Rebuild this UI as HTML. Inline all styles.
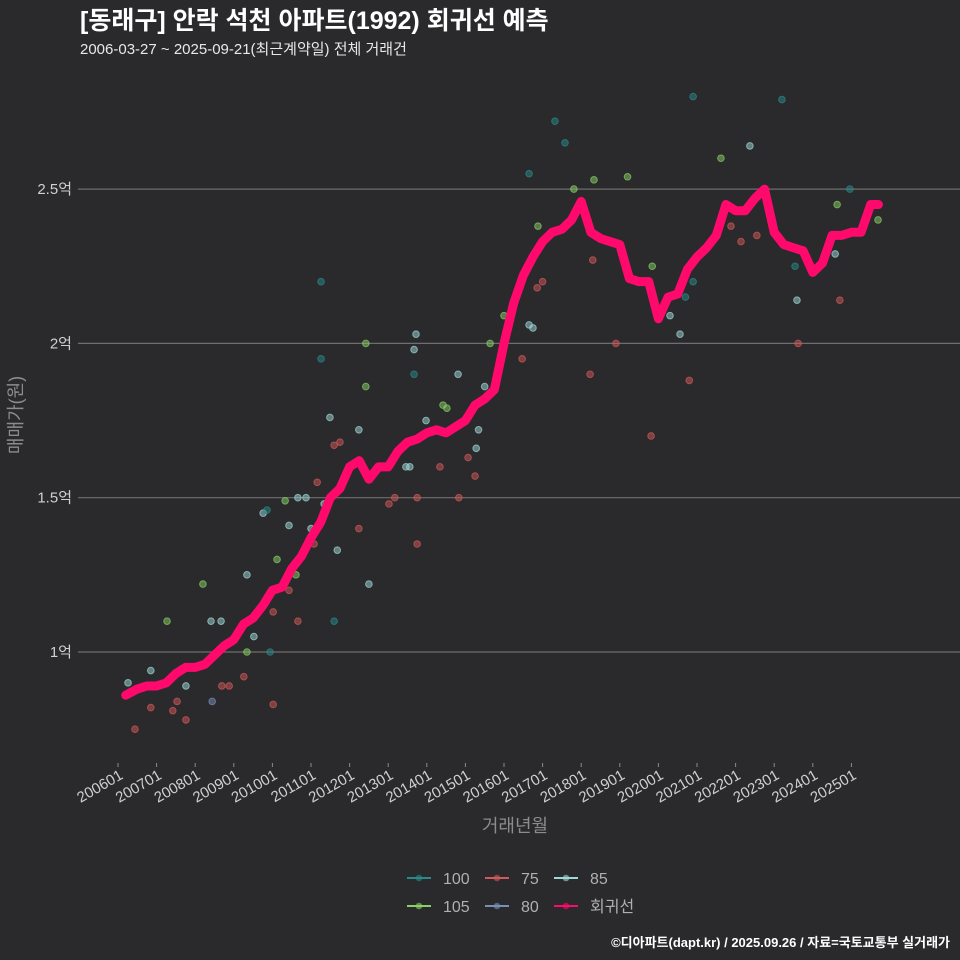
<!DOCTYPE html>
<html><head><meta charset="utf-8">
<style>
html,body{margin:0;padding:0;background:#2a292b;}
svg{display:block;font-family:"Liberation Sans","Noto Sans CJK KR",sans-serif;}
</style></head>
<body>
<svg id="chart" width="960" height="960" viewBox="0 0 960 960" xmlns="http://www.w3.org/2000/svg">
<rect width="960" height="960" fill="#2a292b"/>
<text x="80" y="29" fill="#ffffff" font-size="25" font-weight="bold">[동래구] 안락 석천 아파트(1992) 회귀선 예측</text>
<text x="80" y="54" fill="#e8e8e8" font-size="15">2006-03-27 ~ 2025-09-21(최근계약일) 전체 거래건</text>
<g id="grid"></g>
<g id="points"></g>
<g id="line"></g>
<g id="axes"></g>
<text x="0" y="0" transform="translate(22,415) rotate(-90)" text-anchor="middle" fill="#8c8c8c" font-size="18">매매가(원)</text>
<text x="515" y="832" text-anchor="middle" fill="#8c8c8c" font-size="18">거래년월</text>
<g id="legend"></g>
<text x="950" y="947" text-anchor="end" fill="#ffffff" font-size="13" font-weight="bold">©디아파트(dapt.kr) / 2025.09.26 / 자료=국토교통부 실거래가</text>
</svg>
<script>
const yTicks=[1,1.5,2,2.5];
const yTickLabels=["1억","1.5억","2억","2.5억"];
const xTickYears=[2006,2007,2008,2009,2010,2011,2012,2013,2014,2015,2016,2017,2018,2019,2020,2021,2022,2023,2024,2025];
const xTickLabels=["200601","200701","200801","200901","201001","201101","201201","201301","201401","201501","201601","201701","201801","201901","202001","202101","202201","202301","202401","202501"];
const lineYears=[2006.2,2006.5,2006.75,2007,2007.25,2007.5,2007.75,2008,2008.25,2008.5,2008.75,2009,2009.25,2009.5,2009.75,2010,2010.25,2010.5,2010.75,2011,2011.25,2011.5,2011.75,2012,2012.25,2012.5,2012.75,2013,2013.25,2013.5,2013.75,2014,2014.25,2014.5,2014.75,2015,2015.25,2015.5,2015.75,2016,2016.25,2016.5,2016.75,2017,2017.25,2017.5,2017.75,2018,2018.25,2018.5,2018.75,2019,2019.25,2019.5,2019.75,2020,2020.25,2020.5,2020.75,2021,2021.25,2021.5,2021.75,2022,2022.25,2022.5,2022.75,2023,2023.25,2023.5,2023.75,2024,2024.25,2024.5,2024.75,2025,2025.25,2025.5,2025.7];
const lineValues=[0.86,0.88,0.89,0.89,0.90,0.93,0.95,0.95,0.96,0.99,1.02,1.04,1.09,1.11,1.15,1.20,1.21,1.27,1.31,1.37,1.42,1.50,1.53,1.60,1.62,1.56,1.60,1.60,1.65,1.68,1.69,1.71,1.72,1.71,1.73,1.75,1.80,1.82,1.85,2.00,2.13,2.22,2.28,2.33,2.36,2.37,2.40,2.46,2.36,2.34,2.33,2.32,2.21,2.20,2.20,2.08,2.15,2.16,2.24,2.28,2.31,2.35,2.45,2.43,2.43,2.47,2.50,2.36,2.32,2.31,2.30,2.23,2.26,2.35,2.35,2.36,2.36,2.45,2.45];
const pointYears=[2006.26,2006.44,2006.85,2006.85,2007.27,2007.42,2007.53,2007.76,2007.76,2008.2,2008.41,2008.67,2008.44,2008.69,2008.88,2009.26,2009.34,2009.34,2009.52,2009.76,2009.86,2009.94,2010.02,2010.02,2010.04,2010.12,2010.33,2010.43,2010.43,2010.61,2010.66,2010.66,2010.87,2011.0,2011.08,2011.16,2011.26,2011.26,2011.34,2011.49,2011.6,2011.68,2011.6,2011.75,2012.24,2012.24,2012.42,2012.42,2012.5,2013.02,2013.17,2013.46,2013.56,2013.67,2013.67,2013.72,2013.75,2013.75,2013.98,2014.34,2014.42,2014.52,2014.81,2014.83,2015.07,2015.25,2015.28,2015.34,2015.5,2015.64,2016.0,2016.47,2016.65,2016.65,2016.75,2016.86,2017.0,2016.88,2017.32,2017.58,2017.81,2018.23,2018.33,2018.3,2018.9,2019.2,2019.81,2019.84,2020.3,2020.56,2020.7,2020.8,2020.9,2020.9,2021.62,2021.88,2022.14,2022.37,2022.55,2023.2,2023.54,2023.59,2023.62,2024.58,2024.63,2024.7,2024.96,2025.69];
const pointValues=[0.90,0.75,0.94,0.82,1.10,0.81,0.84,0.78,0.89,1.22,1.10,1.10,0.84,0.89,0.89,0.92,1.00,1.25,1.05,1.45,1.46,1.00,0.83,1.13,1.20,1.30,1.49,1.41,1.20,1.25,1.10,1.50,1.50,1.40,1.35,1.55,2.20,1.95,1.48,1.76,1.10,1.33,1.67,1.68,1.72,1.40,2.00,1.86,1.22,1.48,1.50,1.60,1.60,1.98,1.90,2.03,1.35,1.50,1.75,1.60,1.80,1.79,1.90,1.50,1.63,1.57,1.66,1.72,1.86,2.00,2.09,1.95,2.55,2.06,2.05,2.18,2.20,2.38,2.72,2.65,2.50,1.90,2.53,2.27,2.00,2.54,1.70,2.25,2.09,2.03,2.15,1.88,2.80,2.20,2.60,2.38,2.33,2.64,2.35,2.79,2.25,2.14,2.00,2.29,2.45,2.14,2.50,2.40];
const pointTypes=["85","75","85","75","105","75","75","75","85","105","85","85","80","75","75","75","105","85","85","85","100","100","75","75","105","105","105","85","75","105","75","85","85","85","75","75","100","100","85","85","100","85","75","75","85","75","105","105","85","75","75","85","85","85","100","85","75","75","85","75","105","105","85","75","75","75","85","85","85","105","105","75","100","85","85","75","75","105","100","100","105","75","105","75","75","105","75","105","85","85","100","75","100","100","105","75","75","85","75","100","100","85","75","85","105","75","100","105"];
const legendLabels=["100","75","85","105","80","회귀선"];

const colors={"100":"#2a8a8a","75":"#d05a5a","85":"#9fd8d8","105":"#88d068","80":"#7890b8","회귀선":"#ff0a6c"};
const NS="http://www.w3.org/2000/svg";
function xs(yr){return 118+(yr-2006)*38.6;}
function ys(v){return 652-(v-1)*308.6;}
function mk(tag,attrs,parent){const e=document.createElementNS(NS,tag);for(const k in attrs)e.setAttribute(k,attrs[k]);parent.appendChild(e);return e;}
const grid=document.getElementById('grid'),axes=document.getElementById('axes');
yTicks.forEach((t,i)=>{
  const l=mk('line',{x1:78,x2:960,y1:ys(t),y2:ys(t),stroke:'#6e6e6e','stroke-width':1.2},grid);
  
  
  const tx=mk('text',{x:72,y:ys(t)+5,'text-anchor':'end',fill:'#d0d0d0','font-size':15},axes);
  tx.textContent=yTickLabels[i];
  
  
});
xTickYears.forEach((yr,i)=>{
  const x=xs(yr);
  const tk=mk('line',{x1:x,x2:x,y1:763,y2:767,stroke:'#8c8c8c'},axes);
  
  
  const tx=mk('text',{x:0,y:0,transform:`translate(${x+6},${778}) rotate(-30)`,'text-anchor':'end',fill:'#d0d0d0','font-size':15},axes);
  tx.textContent=xTickLabels[i];
  
  
});
const pts=document.getElementById('points');
pointYears.forEach((yr,i)=>{
  const c=mk('circle',{cx:xs(yr),cy:ys(pointValues[i]),r:3.3,fill:colors[pointTypes[i]],'fill-opacity':0.5,stroke:colors[pointTypes[i]],'stroke-opacity':0.7,'stroke-width':1},pts);
  
  
});
let d='';
lineYears.forEach((yr,i)=>{
  const x=xs(yr),y=ys(lineValues[i]);
  d+=(i===0?'M':'L')+x+','+y;
});
const p=mk('path',{d:d,fill:'none',stroke:'#ff0a6c','stroke-width':9,'stroke-linejoin':'round','stroke-linecap':'round'},document.getElementById('line'));


const lg=document.getElementById('legend');
const lx=[407,485,554],ly=[878,906];
legendLabels.forEach((lab,i)=>{
  const x=lx[i%3],y=ly[Math.floor(i/3)];
  const g=mk('g',{},lg);
  
  
  mk('line',{x1:x,x2:x+24,y1:y,y2:y,stroke:colors[lab],'stroke-width':2},g);
  mk('circle',{cx:x+12,cy:y,r:3.3,fill:colors[lab],'fill-opacity':0.6},g);
  const t=mk('text',{x:x+36,y:y+6,fill:'#b0b0b0','font-size':16},g);
  t.textContent=lab;
});
</script>
</body></html>
